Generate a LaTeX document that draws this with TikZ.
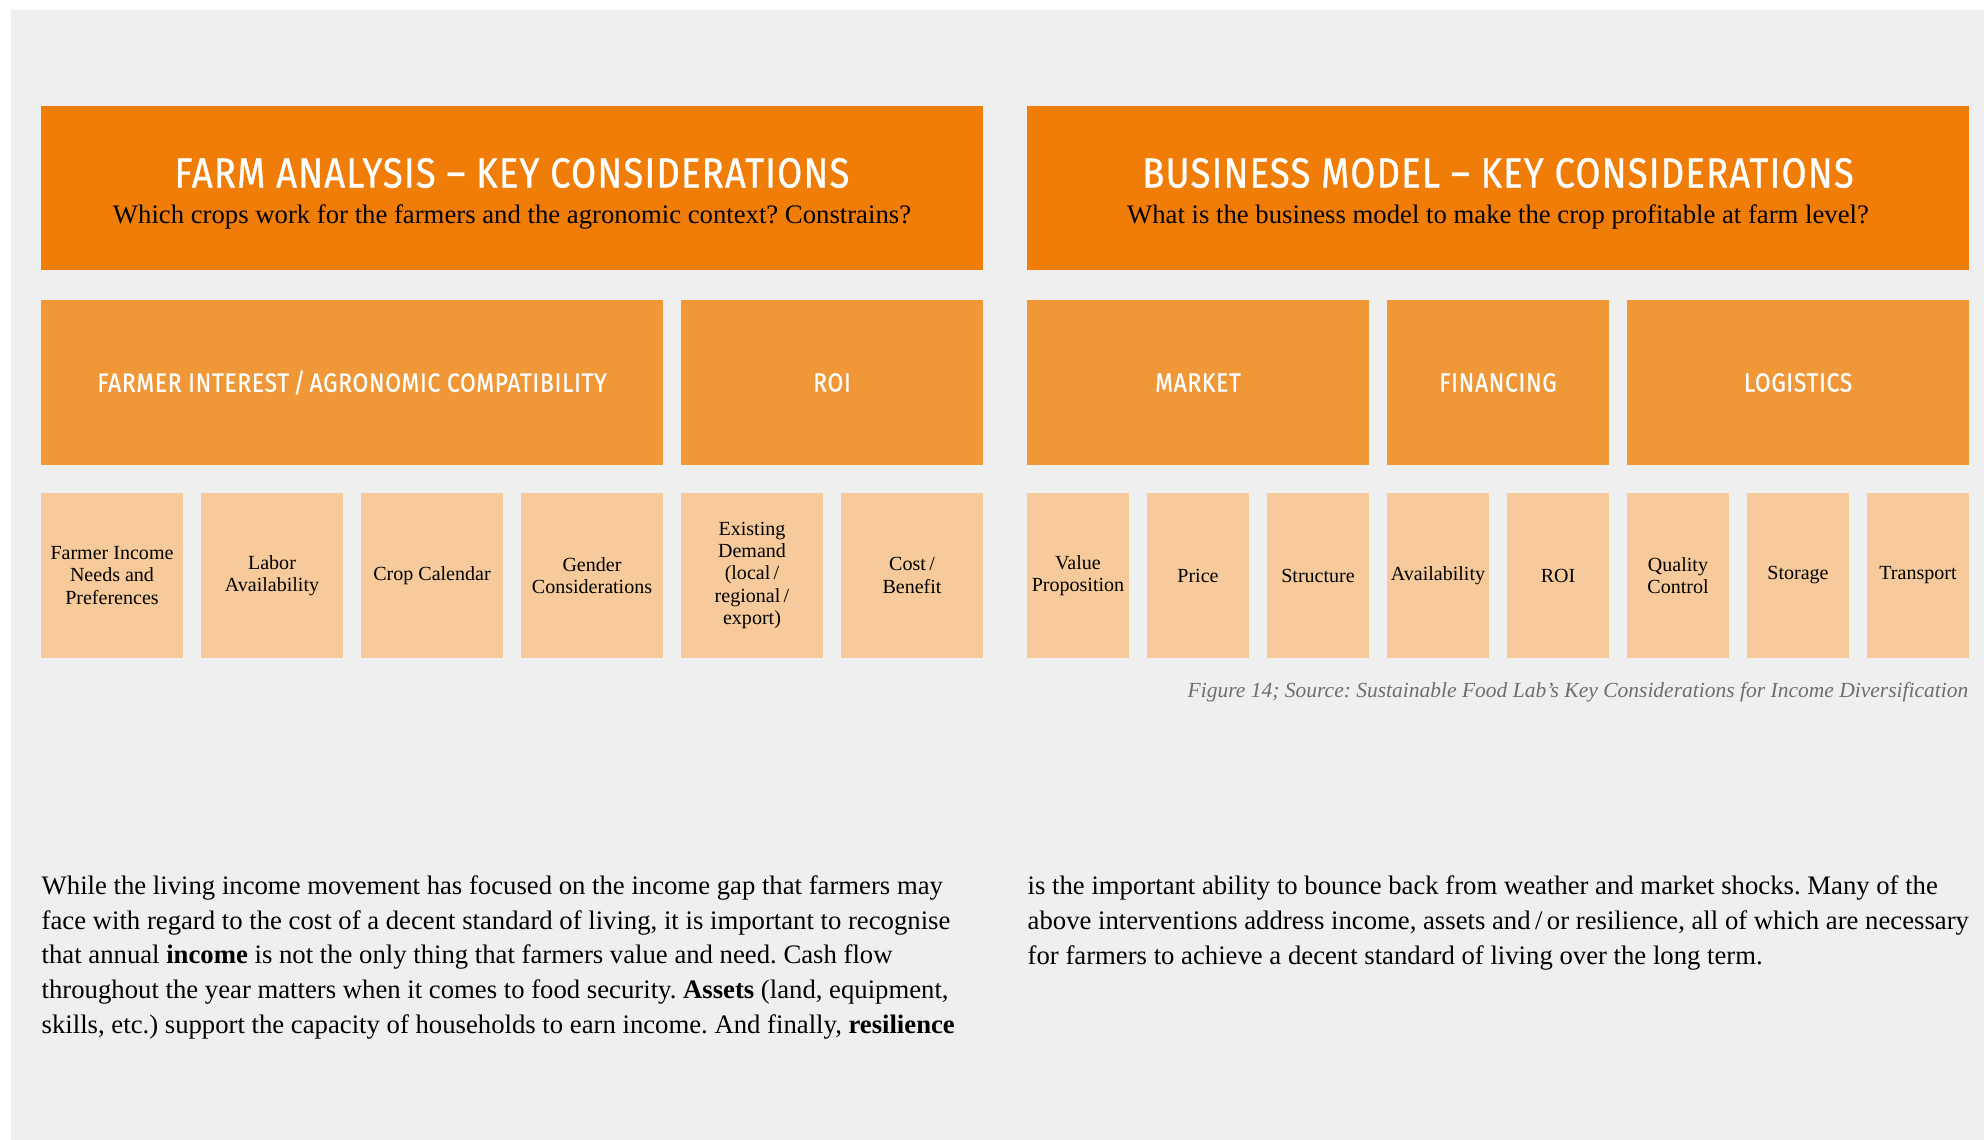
\documentclass[tikz,border=0pt]{standalone}
\usepackage{fontspec}
\setmainfont{Liberation Serif}
\newfontfamily\headfont[FakeStretch=0.86,LetterSpace=3,FakeBold=0.8]{Fira Sans}
\definecolor{pagegray}{HTML}{EFEFEF}
\definecolor{deeporange}{HTML}{EF7D07}
\definecolor{midorange}{HTML}{F09838}
\definecolor{paleorange}{HTML}{F6CA9A}
\definecolor{capgray}{HTML}{6E6E6E}
\frenchspacing
\tikzset{
	banner/.style={fill=deeporange, inner sep=0, minimum width=94.2mm, minimum height=16.4mm},
	bannertitle/.style={text=white, inner sep=0, font=\headfont\fontsize{12}{13}\selectfont},
	bannersub/.style={text=black, inner sep=0, font=\fontsize{7.6}{8}\selectfont},
	group/.style={fill=midorange, inner sep=0, minimum height=16.5mm, text=white, font=\headfont\fontsize{7.5}{8}\selectfont},
	cell/.style={fill=paleorange, inner sep=0, minimum height=16.5mm, minimum width=14.2mm, align=center, font=\fontsize{5.7}{6.4}\selectfont},
	narrowcell/.style={cell, minimum width=10.2mm},
	bodytext/.style={inner sep=0, align=left, font=\fontsize{7.6}{9.84}\selectfont},
	caption/.style={inner sep=0, text=capgray, font=\itshape\fontsize{6.12}{7}\selectfont}
}
\begin{document}
\begin{tikzpicture}[x=0.1mm, y=-0.1mm]
		% page
		\fill [white] (0,0) rectangle (1984,1140);
		\fill [pagegray] (11,10) rectangle (1984,1140);

		% banners
		\node [banner] (farm) at (512,188) {};
		\node [banner] (business) at (1498,188) {};
		\node [bannertitle] (farmtitle) at (512,173) {FARM ANALYSIS – KEY CONSIDERATIONS};
		\node [bannersub] (farmsub) at (512,217) {Which crops work for the farmers and the agronomic context? Constrains?};
		\node [bannertitle] (businesstitle) at (1498,173) {BUSINESS MODEL – KEY CONSIDERATIONS};
		\node [bannersub] (businesssub) at (1498,217) {What is the business model to make the crop profitable at farm level?};

		% groups
		\node [group, minimum width=62.2mm] (interest) at (352,382.5) {FARMER INTEREST\,/\,AGRONOMIC COMPATIBILITY};
		\node [group, minimum width=30.2mm] (roi) at (832,382.5) {ROI};
		\node [group, minimum width=34.2mm] (market) at (1198,382.5) {MARKET};
		\node [group, minimum width=22.2mm] (financing) at (1498,382.5) {FINANCING};
		\node [group, minimum width=34.2mm] (logistics) at (1798,382.5) {LOGISTICS};

		% cells
		\node [cell] (needs) at (112,575.5) {Farmer Income\\Needs and\\Preferences};
		\node [cell] (labor) at (272,575.5) {Labor\\Availability};
		\node [cell] (calendar) at (432,575.5) {Crop Calendar};
		\node [cell] (gender) at (592,575.5) {Gender\\Considerations};
		\node [cell] (demand) at (752,575.5) {Existing\\Demand\\(local\,/\\regional\,/\\export)};
		\node [cell] (cost) at (912,575.5) {Cost\,/\\Benefit};

		\node [narrowcell] (value) at (1078,575.5) {Value\\Proposition};
		\node [narrowcell] (price) at (1198,575.5) {Price};
		\node [narrowcell] (structure) at (1318,575.5) {Structure};
		\node [narrowcell] (availability) at (1438,575.5) {Availability};
		\node [narrowcell] (return) at (1558,575.5) {ROI};
		\node [narrowcell] (quality) at (1678,575.5) {Quality\\Control};
		\node [narrowcell] (storage) at (1798,575.5) {Storage};
		\node [narrowcell] (transport) at (1918,575.5) {Transport};

		\node [caption, anchor=base east] (source) at (1969,698) {Figure 14; Source: Sustainable Food Lab’s Key Considerations for Income Diversification};

		% text (anchored at the last line)
		\node [bodytext, anchor=base west] (leftcol) at (41,1033) {While the living income movement has focused on the income gap that farmers may\\
face with regard to the cost of a decent standard of living, it is important to recognise\\
that annual \textbf{income} is not the only thing that farmers value and need. Cash flow\\
throughout the year matters when it comes to food security. \textbf{Assets} (land, equipment,\\
skills, etc.) support the capacity of households to earn income. And finally, \textbf{resilience}};
		\node [bodytext, anchor=base west] (rightcol) at (1027,964) {is the important ability to bounce back from weather and market shocks. Many of the\\
above interventions address income, assets and\,/\,or resilience, all of which are necessary\\
for farmers to achieve a decent standard of living over the long term.};
\end{tikzpicture}
\end{document}
